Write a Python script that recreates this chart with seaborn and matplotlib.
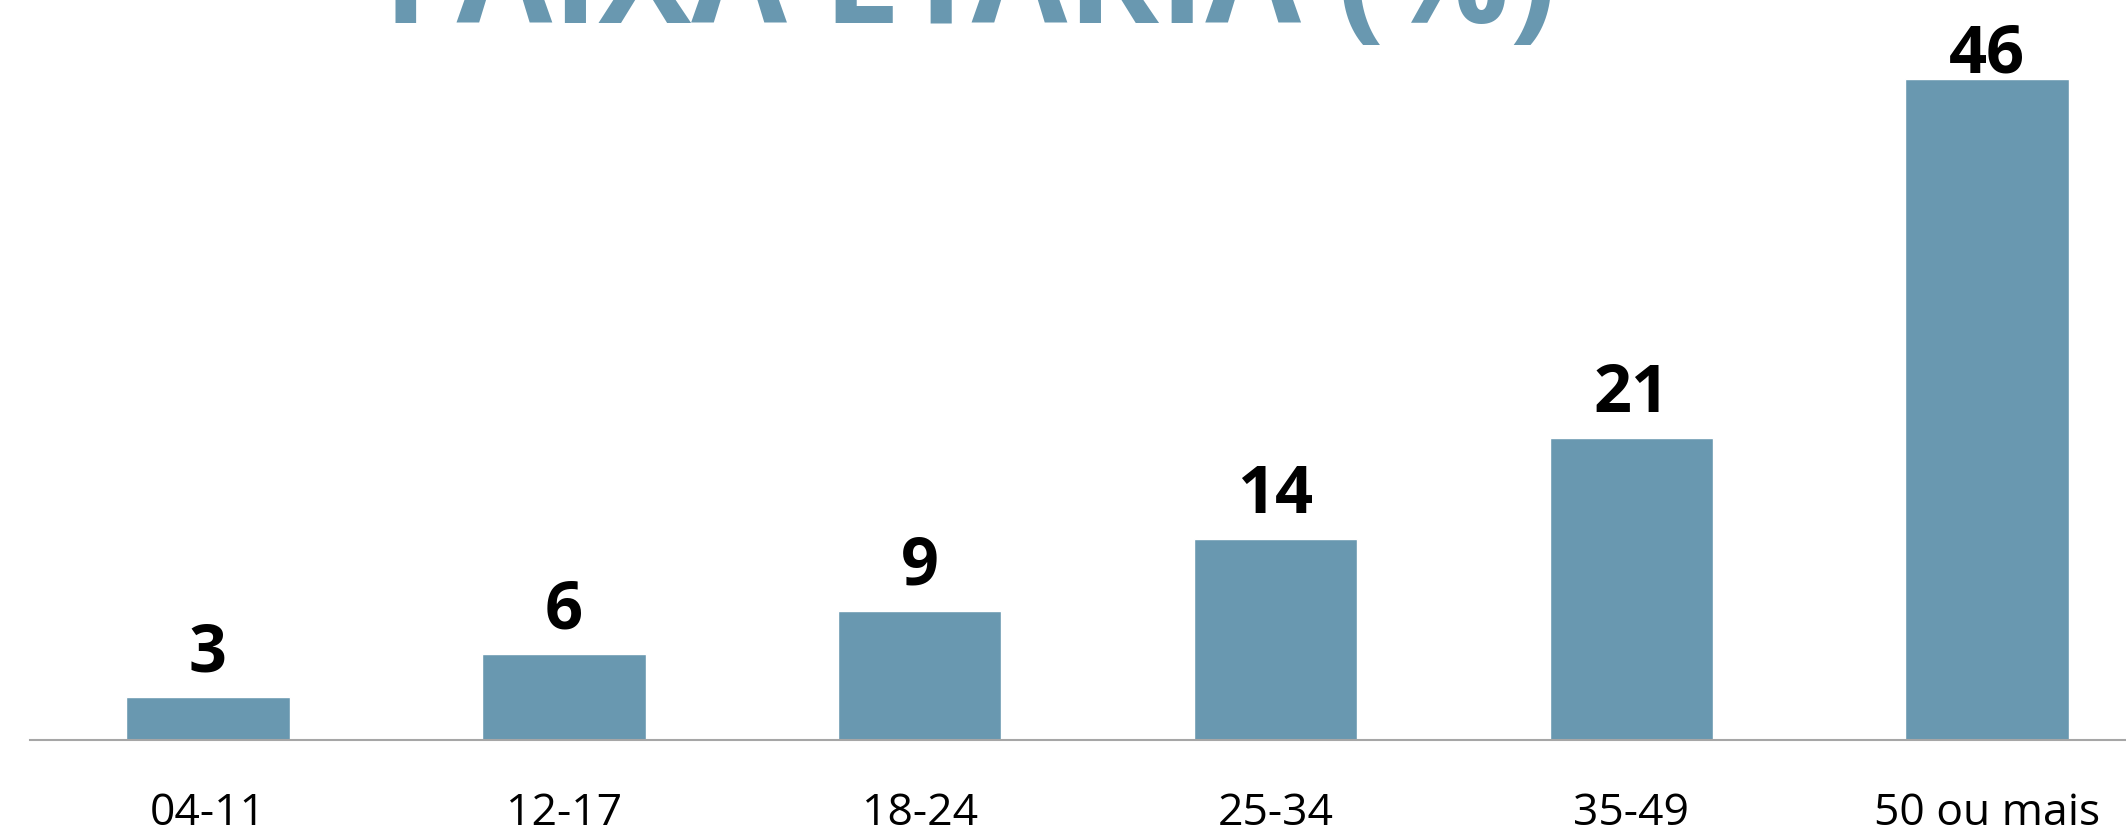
import numpy as np
import pandas as pd
import seaborn as sns
import matplotlib.pyplot as plt


faixas = ['04-11', '12-17', '18-24', '25-34', '35-49', '50 ou mais']
percentuais = [3, 6, 9, 14, 21, 46]
titulo = 'FAIXA ETÁRIA (%)'

BAR_COLOR = '#6998B0'

df = pd.DataFrame({'Faixa': faixas, 'Pct': percentuais})

sns.set_theme(style='white')
plt.rcParams['font.family'] = ['Open Sans', 'DejaVu Sans']

fig = plt.figure(figsize=(21.26, 8.33), dpi=100)
ax = fig.add_axes([0.0141, 0.1116, 0.9859, 0.8884])

sns.barplot(data=df, x='Faixa', y='Pct', color=BAR_COLOR, width=0.46,
            saturation=1, ax=ax)

ax.set_xlim(-0.5, 5.39)
ax.set_ylim(0, 51.46)

# value labels; the last one sits closer to its bar (no room above)
labels = ax.bar_label(ax.containers[0], labels=[str(v) for v in percentuais],
                      padding=7, fontsize=48, fontweight='bold', color='black')
labels[-1].set_position((0, -7))

for side in ['top', 'right', 'left']:
    ax.spines[side].set_visible(False)
ax.spines['bottom'].set_color('#A6A6A6')
ax.spines['bottom'].set_linewidth(1.5)

ax.set_yticks([])
ax.tick_params(axis='x', length=0, pad=37, labelsize=32, labelcolor='black')
ax.set_xlabel('')
ax.set_ylabel('')

fig.text(970 / 2126, 1 - 23 / 833, titulo, ha='center', va='baseline',
         fontsize=100, fontweight='bold', color=BAR_COLOR)

fig.savefig('out.png', dpi=100)
